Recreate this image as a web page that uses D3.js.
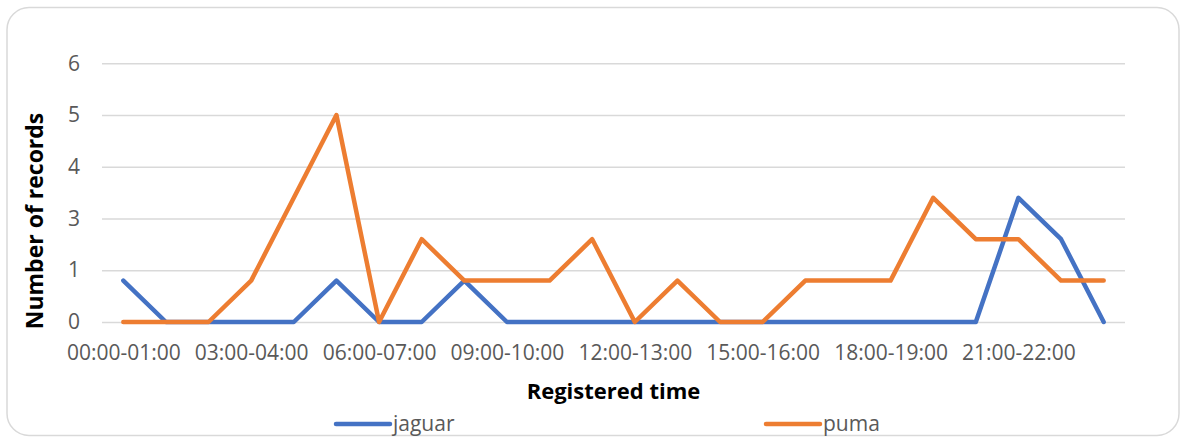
<!DOCTYPE html>
<html>
<head>
<meta charset="utf-8">
<script src="https://cdn.jsdelivr.net/npm/d3@7"></script>
<style>
  body { margin: 0; padding: 0; background: #fff; }
  text { font-family: 'Open Sans', sans-serif; }
</style>
</head>
<body>
<div id="main"></div>
<script>
// hourly slots
const hours = [
    '00:00-01:00', '01:00-02:00', '02:00-03:00', '03:00-04:00', '04:00-05:00', '05:00-06:00',
    '06:00-07:00', '07:00-08:00', '08:00-09:00', '09:00-10:00', '10:00-11:00', '11:00-12:00',
    '12:00-13:00', '13:00-14:00', '14:00-15:00', '15:00-16:00', '16:00-17:00', '17:00-18:00',
    '18:00-19:00', '19:00-20:00', '20:00-21:00', '21:00-22:00', '22:00-23:00', '23:00-24:00'
];
const jaguar = [1, 0, 0, 0, 0, 1, 0, 0, 1, 0, 0, 0, 0, 0, 0, 0, 0, 0, 0, 0, 0, 3, 2, 0];
const puma = [0, 0, 0, 1, 3, 5, 0, 2, 1, 1, 1, 2, 0, 1, 0, 0, 1, 1, 1, 3, 2, 2, 1, 1];
// excel major unit 1.25, shown with no decimals
const yTicks = [0, 1.25, 2.5, 3.75, 5, 6.25];
const xTickLabels = hours.filter((d, i) => i % 3 === 0);

const WIDTH = 1182, HEIGHT = 438;
const LEFT = 102, RIGHT = 1125, TOP = 63.3, BOTTOM = 322;

const series = [
    { name: 'jaguar', values: jaguar, color: '#4472C4' },
    { name: 'puma', values: puma, color: '#ED7D31' }
];

const svg = d3.select('#main').append('svg')
    .attr('width', WIDTH)
    .attr('height', HEIGHT)
    .attr('style', 'display:block');

// chart frame
svg.append('rect')
    .attr('x', 7).attr('y', 7.5)
    .attr('width', 1172).attr('height', 428)
    .attr('rx', 22).attr('ry', 22)
    .attr('fill', '#fff')
    .attr('stroke', '#d9d9d9')
    .attr('stroke-width', 1.5);

const x = d3.scalePoint()
    .domain(hours)
    .range([LEFT, RIGHT])
    .padding(0.5);
const y = d3.scaleLinear()
    .domain([0, 6.25])
    .range([BOTTOM, TOP]);

// gridlines
const grid = d3.axisLeft(y).tickValues(yTicks).tickSize(-(RIGHT - LEFT)).tickFormat('');
svg.append('g')
    .attr('transform', `translate(${LEFT},0)`)
    .call(grid)
    .call(g => g.select('.domain').remove())
    .call(g => g.selectAll('line').attr('stroke', '#d9d9d9').attr('stroke-width', 1.6));

// y labels
const axisY = d3.axisLeft(y).tickValues(yTicks).tickFormat(d3.format('.0f')).tickSize(0).tickPadding(22);
svg.append('g')
    .attr('transform', `translate(${LEFT},0)`)
    .call(axisY)
    .call(g => g.select('.domain').remove())
    .call(g => g.selectAll('text')
        .attr('fill', '#595959')
        .style('font-size', '21px')
        .style('font-family', "'Open Sans', sans-serif"));

// x labels, every third slot
const axisX = d3.axisBottom(x).tickValues(xTickLabels).tickSize(0).tickPadding(23);
svg.append('g')
    .attr('transform', `translate(0,${BOTTOM})`)
    .call(axisX)
    .call(g => g.select('.domain').remove())
    .call(g => g.selectAll('text')
        .attr('fill', '#595959')
        .style('font-size', '21px')
        .style('font-family', "'Open Sans', sans-serif"));

// lines
const line = d3.line()
    .x((d, i) => x(hours[i]))
    .y(d => y(d));
svg.selectAll('path.series')
    .data(series)
    .enter()
    .append('path')
    .attr('class', 'series')
    .attr('d', d => line(d.values))
    .attr('fill', 'none')
    .attr('stroke', d => d.color)
    .attr('stroke-width', 4.5)
    .attr('stroke-linejoin', 'round')
    .attr('stroke-linecap', 'round');

// axis titles
svg.append('text')
    .text('Registered time')
    .attr('x', (LEFT + RIGHT) / 2)
    .attr('y', 399)
    .attr('text-anchor', 'middle')
    .attr('fill', '#000')
    .style('font-size', '22px')
    .style('font-weight', 'bold');
svg.append('text')
    .text('Number of records')
    .attr('transform', 'translate(43,221) rotate(-90)')
    .attr('text-anchor', 'middle')
    .attr('fill', '#000')
    .style('font-size', '23px')
    .style('font-weight', 'bold');

// legend
const legendX = [336, 766];
const legend = svg.selectAll('g.legend')
    .data(series)
    .enter()
    .append('g')
    .attr('class', 'legend')
    .attr('transform', (d, i) => `translate(${legendX[i]},424)`);
legend.append('line')
    .attr('x1', 0).attr('x2', 54)
    .attr('stroke', d => d.color)
    .attr('stroke-width', 4.5)
    .attr('stroke-linecap', 'round');
legend.append('text')
    .text(d => d.name)
    .attr('x', 57)
    .attr('y', 7)
    .attr('fill', '#595959')
    .style('font-size', '21px');
</script>
</body>
</html>
